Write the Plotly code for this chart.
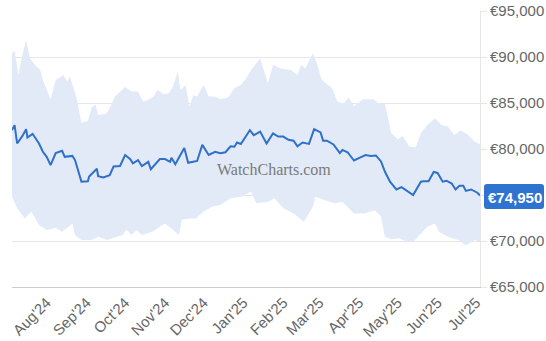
import plotly.graph_objects as go
from datetime import datetime

# Daily average price (EUR)
price_dates = [
    "2024-07-05", "2024-07-07", "2024-07-09", "2024-07-13", "2024-07-16", "2024-07-17",
    "2024-07-21", "2024-07-24", "2024-07-26", "2024-07-29", "2024-08-01", "2024-08-04",
    "2024-08-08", "2024-08-13", "2024-08-15", "2024-08-21", "2024-08-23", "2024-08-28",
    "2024-09-02", "2024-09-03", "2024-09-09", "2024-09-10", "2024-09-14", "2024-09-19",
    "2024-09-22", "2024-09-27", "2024-10-01", "2024-10-05", "2024-10-07", "2024-10-11",
    "2024-10-14", "2024-10-19", "2024-10-21", "2024-10-28", "2024-11-01", "2024-11-05",
    "2024-11-06", "2024-11-09", "2024-11-16", "2024-11-19", "2024-11-26", "2024-11-30",
    "2024-12-05", "2024-12-10", "2024-12-14", "2024-12-18", "2024-12-22", "2024-12-25",
    "2024-12-27", "2024-12-30", "2025-01-05", "2025-01-06", "2025-01-09", "2025-01-14",
    "2025-01-19", "2025-01-24", "2025-01-28", "2025-02-01", "2025-02-05", "2025-02-09",
    "2025-02-12", "2025-02-16", "2025-02-21", "2025-02-25", "2025-03-02", "2025-03-04",
    "2025-03-07", "2025-03-12", "2025-03-17", "2025-03-19", "2025-03-23", "2025-03-28",
    "2025-04-02", "2025-04-06", "2025-04-10", "2025-04-14", "2025-04-18", "2025-04-21",
    "2025-04-25", "2025-04-30", "2025-05-04", "2025-05-07", "2025-05-11", "2025-05-13",
    "2025-05-19", "2025-05-21", "2025-05-25", "2025-05-29", "2025-06-01", "2025-06-05",
    "2025-06-08", "2025-06-12", "2025-06-15", "2025-06-18", "2025-06-21", "2025-06-23",
    "2025-06-27", "2025-07-02", "2025-07-04",
]
price_values = [
    82050, 82600, 80600, 81400, 82150, 81250,
    81650, 81050, 80600, 79700, 79150, 78250,
    79550, 79800, 79150, 79250, 78800, 76450,
    76500, 77000, 77850, 77050, 76900, 77150,
    78100, 78150, 79350, 78900, 78450, 78800,
    78150, 78600, 77800, 78900, 78900, 78600,
    79050, 78350, 80100, 78500, 78700, 80450,
    79350, 79700, 79550, 79650, 80300, 80250,
    80700, 80550, 81750, 82050, 81500, 81900,
    80600, 81700, 81350, 81350, 81000, 80900,
    80300, 80700, 80550, 82150, 81800, 80900,
    80900, 80500, 79550, 79900, 79650, 78750,
    79100, 79350, 79250, 79300, 78650, 77550,
    76450, 75600, 75850, 75550, 75100, 75000,
    76450, 76500, 76500, 77500, 77400, 76450,
    76550, 76250, 75600, 76000, 76000, 75450,
    75600, 75250, 74950,
]

# Upper edge of the price range band
upper_dates = [
    "2024-07-05", "2024-07-07", "2024-07-10", "2024-07-13", "2024-07-16", "2024-07-19",
    "2024-07-24", "2024-07-27", "2024-07-29", "2024-08-04", "2024-08-08", "2024-08-14",
    "2024-08-17", "2024-08-19", "2024-08-24", "2024-08-28", "2024-09-02", "2024-09-05",
    "2024-09-08", "2024-09-10", "2024-09-16", "2024-09-19", "2024-09-23", "2024-10-01",
    "2024-10-06", "2024-10-11", "2024-10-15", "2024-10-19", "2024-10-23", "2024-10-26",
    "2024-10-31", "2024-11-04", "2024-11-07", "2024-11-11", "2024-11-13", "2024-11-17",
    "2024-11-20", "2024-11-23", "2024-11-26", "2024-12-01", "2024-12-05", "2024-12-10",
    "2024-12-14", "2024-12-20", "2024-12-25", "2024-12-30", "2025-01-04", "2025-01-07",
    "2025-01-14", "2025-01-20", "2025-01-24", "2025-01-30", "2025-02-07", "2025-02-12",
    "2025-02-15", "2025-02-18", "2025-02-24", "2025-02-26", "2025-03-03", "2025-03-11",
    "2025-03-15", "2025-03-20", "2025-03-24", "2025-03-28", "2025-04-04", "2025-04-12",
    "2025-04-17", "2025-04-21", "2025-04-26", "2025-05-01", "2025-05-05", "2025-05-10",
    "2025-05-15", "2025-05-19", "2025-05-24", "2025-05-30", "2025-06-04", "2025-06-09",
    "2025-06-14", "2025-06-19", "2025-06-25", "2025-06-30", "2025-07-04",
]
upper_values = [
    90400, 90700, 88050, 90200, 91850, 89850,
    88950, 88600, 87500, 85400, 87500, 88050,
    87300, 87850, 85700, 82850, 83050, 84550,
    84800, 83700, 83800, 84400, 85700, 86750,
    86250, 86250, 85150, 85350, 85700, 86400,
    85950, 86050, 86750, 88400, 86400, 86950,
    84600, 85850, 85700, 86950, 85700, 85700,
    85400, 85600, 86600, 86950, 87850, 88600,
    89850, 87150, 89150, 88750, 88600, 88050,
    89150, 88750, 90400, 89750, 87500, 86600,
    85150, 84950, 85600, 84650, 85400, 85400,
    84900, 84950, 81700, 81050, 81400, 80250,
    80200, 81700, 82600, 83350, 82600, 82450,
    81500, 82050, 81500, 80800, 80550,
]

# Lower edge of the price range band
lower_dates = [
    "2024-07-05", "2024-07-09", "2024-07-15", "2024-07-20", "2024-07-26", "2024-08-01",
    "2024-08-08", "2024-08-13", "2024-08-17", "2024-08-21", "2024-08-23", "2024-08-28",
    "2024-09-05", "2024-09-10", "2024-09-17", "2024-09-22", "2024-09-29", "2024-10-02",
    "2024-10-06", "2024-10-10", "2024-10-14", "2024-10-22", "2024-10-28", "2024-11-01",
    "2024-11-07", "2024-11-12", "2024-11-14", "2024-11-20", "2024-11-25", "2024-12-01",
    "2024-12-08", "2024-12-14", "2024-12-22", "2024-12-30", "2025-01-07", "2025-01-11",
    "2025-01-20", "2025-01-25", "2025-02-01", "2025-02-09", "2025-02-17", "2025-02-24",
    "2025-02-26", "2025-03-05", "2025-03-13", "2025-03-19", "2025-03-28", "2025-04-05",
    "2025-04-13", "2025-04-18", "2025-04-21", "2025-04-26", "2025-05-02", "2025-05-09",
    "2025-05-13", "2025-05-17", "2025-05-24", "2025-05-30", "2025-06-02", "2025-06-09",
    "2025-06-17", "2025-06-23", "2025-06-30", "2025-07-04",
]
lower_values = [
    74800, 73550, 72450, 73200, 71750, 71200,
    71400, 71000, 71400, 71900, 70650, 70100,
    70100, 70450, 70100, 70300, 70650, 71250,
    70650, 71200, 70650, 71000, 71550, 71900,
    71200, 70650, 72300, 72450, 72450, 73200,
    73750, 73900, 74650, 74800, 75350, 74100,
    74250, 74650, 73550, 73000, 72100, 73750,
    74800, 74450, 74100, 74250, 73000, 73000,
    73350, 72650, 70450, 70200, 70300, 69900,
    69900, 70450, 71550, 71900, 71000, 70450,
    70100, 69550, 70100, 69900,
]

# Axis ticks
month_ticks = [
    "2024-08-01", "2024-09-01", "2024-10-01", "2024-11-01", "2024-12-01", "2025-01-01",
    "2025-02-01", "2025-03-01", "2025-04-01", "2025-05-01", "2025-06-01", "2025-07-01",
]
price_ticks = [65000, 70000, 75000, 80000, 85000, 90000, 95000]

LINE_BLUE = "#2f70c8"
BADGE_BLUE = "#2f73d1"
BAND_FILL = "#e2eaf8"
GRID = "#e6e6e6"
LABEL_GREY = "#666666"
FONT = "Liberation Sans, Arial, sans-serif"

last_price = price_values[-1]

month_labels = [datetime.strptime(d, "%Y-%m-%d").strftime("%b'%y") for d in month_ticks]
# The latest-price badge sits on the €75,000 row, so that row keeps its gridline only
price_labels = ["" if abs(v - last_price) < 2500 else f"€{v:,}" for v in price_ticks]

fig = go.Figure()

# Range band as a closed polygon: upper edge forward, lower edge back
fig.add_trace(go.Scatter(
    x=upper_dates + lower_dates[::-1],
    y=upper_values + lower_values[::-1],
    mode="lines",
    fill="toself",
    fillcolor=BAND_FILL,
    line=dict(width=0, color=BAND_FILL),
    hoverinfo="skip",
    showlegend=False,
))

fig.add_trace(go.Scatter(
    x=price_dates,
    y=price_values,
    mode="lines",
    line=dict(color=LINE_BLUE, width=2),
    showlegend=False,
))

# Rounded badge behind the latest price, anchored to the right edge of the plot
x0, w, h, r, dy = 4, 60, 25, 3, -1
top, bot = -h / 2 + dy, h / 2 + dy
badge_path = (
    f"M {x0 + r},{top} L {x0 + w - r},{top} Q {x0 + w},{top} {x0 + w},{top + r} "
    f"L {x0 + w},{bot - r} Q {x0 + w},{bot} {x0 + w - r},{bot} "
    f"L {x0 + r},{bot} Q {x0},{bot} {x0},{bot - r} L {x0},{top + r} "
    f"Q {x0},{top} {x0 + r},{top} Z"
)
fig.add_shape(
    type="path",
    xref="paper", xsizemode="pixel", xanchor=1,
    yref="y", ysizemode="pixel", yanchor=last_price,
    path=badge_path,
    fillcolor=BADGE_BLUE,
    line=dict(width=0),
    layer="above",
)
fig.add_annotation(
    xref="paper", x=1, xanchor="left", xshift=6,
    yref="y", y=last_price, yanchor="middle", yshift=-2,
    text=f"<b>€{last_price:,}</b>",
    showarrow=False,
    font=dict(family=FONT, size=15, color="white"),
)

# Watermark
fig.add_annotation(
    xref="paper", x=0.56, yref="paper", y=0.424,
    text="WatchCharts.com",
    showarrow=False,
    font=dict(family="Liberation Serif, Times New Roman, serif", size=16, color="#7a7a7a"),
)

fig.update_layout(
    width=546,
    height=341,
    margin=dict(l=12, r=66, t=11, b=54),
    paper_bgcolor="white",
    plot_bgcolor="white",
    font=dict(family=FONT, color=LABEL_GREY),
    showlegend=False,
)

fig.update_xaxes(
    range=["2024-07-05", "2025-07-04"],
    tickvals=month_ticks,
    ticktext=month_labels,
    tickangle=-45,
    tickfont=dict(size=15, color=LABEL_GREY),
    showgrid=False,
    showline=True,
    linecolor="#cccccc",
    linewidth=1,
    ticks="",
    zeroline=False,
    automargin=False,
)

fig.update_yaxes(
    range=[65000, 95000],
    side="right",
    tickvals=price_ticks,
    ticktext=price_labels,
    tickfont=dict(size=15, color=LABEL_GREY),
    showgrid=True,
    gridcolor=GRID,
    gridwidth=1,
    showline=True,
    linecolor=GRID,
    ticks="outside",
    ticklen=6,
    tickcolor=GRID,
    zeroline=False,
    automargin=False,
)

fig.write_html("out.html")
